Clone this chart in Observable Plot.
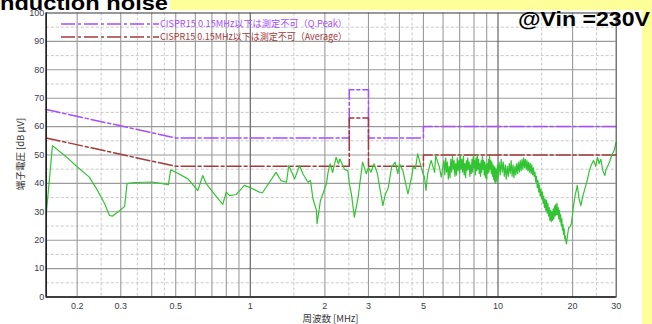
<!DOCTYPE html>
<html><head><meta charset="utf-8">
<script src="https://cdn.jsdelivr.net/npm/d3@7"></script>
<script src="https://cdn.jsdelivr.net/npm/@observablehq/plot@0.6"></script>
<style>
body{margin:0;background:#fff;}
#wrap{position:relative;width:652px;height:324px;overflow:hidden;background:#fff;}
.yl{position:absolute;background:#ffff99;}
#wrap svg{position:absolute;left:0;top:0;}
</style>
</head><body>
<div id="wrap">
  <div class="yl" style="left:170px;top:0;width:482px;height:10px"></div>
  <div class="yl" style="left:642px;top:0;width:10px;height:324px"></div>
</div>
<script>
// ---- measured conduction noise: [MHz, dBμV] ----
const measured = [
[0.150,29],[0.159,53.3],[0.180,49.5],[0.201,45.7],[0.224,42.2],[0.240,38],[0.250,35.1],[0.258,32.9],[0.270,28.7],[0.278,28.5],
[0.295,30.2],[0.311,31.9],[0.318,39.9],[0.340,40.3],[0.374,40.4],[0.400,40.5],[0.430,40.1],[0.467,39.6],[0.477,44.8],[0.500,43.9],
[0.560,41.6],[0.614,37.5],[0.643,42.8],[0.664,39.9],[0.720,36.0],[0.774,32.6],[0.800,36.9],[0.825,35.7],[0.877,36.1],[0.920,38.1],
[0.946,39.3],[1.00,38.5],[1.09,36.9],[1.12,36.7],[1.27,43.9],[1.33,41.0],[1.40,40.4],[1.43,46.3],[1.51,41.6],[1.58,46.3],
[1.63,43.4],[1.71,40.4],[1.75,41.0],[1.79,34.6],[1.85,30.5],[1.86,25.8],[1.92,34.0],[2.03,39.9],[2.06,43.9],[2.10,46.9],
[2.15,43.9],[2.22,49.2],[2.27,46.9],[2.30,48.6],[2.37,46.0],[2.40,45.0],[2.48,44.4],[2.51,39.9],[2.56,36.3],[2.63,28.1],
[2.67,31.0],[2.72,34.6],[2.80,43.4],[2.84,47.5],[2.94,43.4],[3.00,45.7],[3.07,43.9],[3.16,46.9],[3.26,43.4],[3.31,39.9],
[3.43,32.2],[3.51,36.3],[3.60,38.2],[3.72,45.7],[3.84,47.5],[3.94,43.4],[4.00,46.9],[4.13,44.5],[4.27,38.7],[4.33,36.3],
[4.48,42.2],[4.54,45.7],[4.64,45.2],[4.74,50.4],[4.86,46.9],[4.98,43.4],[5.05,42.2],[5.12,37.5],[5.20,43.4],[5.37,48.1],
[5.55,43.9],[5.60,49.8],[5.80,45.7],[5.90,42.2],[6.00,46.3],
[6.05,48],[6.1,43],[6.15,49],[6.2,44],[6.25,47.5],[6.3,41.5],[6.35,46],[6.4,42],[6.45,48.5],[6.5,44],
[6.55,49.5],[6.6,45],[6.65,48],[6.7,42.5],[6.75,47],[6.8,43],[6.85,49],[6.9,44.5],[6.95,48],[7.0,43.5],
[7.05,50],[7.1,45],[7.15,48.5],[7.2,44],[7.25,49.5],[7.3,43],[7.35,47],[7.4,42],[7.45,48],[7.5,44.5],
[7.55,49],[7.6,45],[7.65,47.5],[7.7,42.5],[7.75,46.5],[7.8,43.5],[7.85,48.5],[7.9,44],[7.95,50],[8.0,45.5],
[8.05,48],[8.1,43],[8.15,49],[8.2,44.5],[8.25,50],[8.3,45],[8.35,48.5],[8.4,43.5],[8.45,47],[8.5,42.5],
[8.55,48],[8.6,44],[8.65,49.5],[8.7,45],[8.75,48],[8.8,43],[8.85,47.5],[8.9,42],[8.95,46.5],[9.0,41.5],
[9.05,47],[9.1,43.5],[9.15,48.5],[9.2,44],[9.25,49.5],[9.3,45],[9.35,48],[9.4,43.5],[9.45,47.5],[9.5,42.5],
[9.55,46.5],[9.6,41.5],[9.65,46],[9.7,40.5],[9.75,45.5],[9.8,40],[9.85,45],[9.9,41],[9.95,46.5],[10.0,42],
[10.1,47.5],[10.2,43],[10.3,48.5],[10.4,44],[10.5,47.5],[10.6,42.5],[10.7,46.5],[10.8,41.5],[10.9,46],[11.0,42.5],
[11.1,47],[11.2,43.5],[11.3,48],[11.4,42.5],[11.5,46.5],[11.6,42],[11.7,46],[11.8,43],[11.9,47],[12.0,43.5],
[12.1,47.5],[12.2,44],[12.3,48],[12.4,44.5],[12.5,48.5],[12.6,45],[12.7,49],[12.8,45.5],[12.9,48.5],[13.0,45],
[13.1,48],[13.2,44.5],[13.3,47.5],[13.4,44],[13.5,47],[13.6,43.5],[13.7,46.5],[13.8,43],[13.9,45.5],[14.0,42.5],
[14.1,44],[14.2,40.5],[14.3,42.5],[14.4,38.5],[14.5,41],[14.6,37],[14.7,39.5],[14.8,35.5],[14.9,38],[15.0,34.5],
[15.1,37],[15.2,33],[15.3,35.5],[15.4,31.5],[15.5,34.5],[15.6,30.5],[15.7,34],[15.8,29.5],[15.9,33],[16.0,28.5],
[16.1,31.5],[16.2,27],[16.3,30.5],[16.4,26.5],[16.5,30],[16.6,27],[16.7,31],[16.8,27.5],[16.9,32],[17.0,28.5],
[17.1,32.5],[17.2,29],[17.3,33],[17.4,29],[17.5,31.5],[17.6,27.5],[17.7,30.5],[17.8,26.5],[17.9,29],[18.0,25],
[18.1,27.5],[18.2,23.5],[18.3,25.5],[18.4,22],[18.5,24],[18.6,20.5],[18.7,21.5],[18.8,19.5],[18.9,18.7],[19.1,22.0],
[19.3,24.5],[19.5,24.6],[19.8,26.0],[20.1,31.0],[20.5,36.0],[20.9,39.3],[21.2,35.0],[21.6,32.2],[22.0,35.5],[22.4,38.0],
[22.9,41.0],[23.3,44.0],[23.8,46.5],[24.3,48.1],[24.8,46.0],[25.2,49.2],[25.6,47.0],[26.0,48.5],[26.5,44.5],[27.0,42.8],
[27.3,45.0],[27.6,45.7],[28.2,47.5],[28.8,50.0],[29.4,51.5],[30.0,54.5]
];

// ---- CISPR15 limit lines ----
const limitFreq    = [0.15,0.5,2.51,2.51,3.0,3.0,5.0,5.0,30];
const qpeakLevel   = [66,56,56,73,73,56,56,60,60];
const averageLevel = [56,46,46,63,63,46,46,50,50];

// ---- ticks & grid ----
const xTicks  = [0.2,0.3,0.5,0.7,1,2,3,5,7,10,20,30];
const yTicks  = [0,10,20,30,40,50,60,70,80,90,100];
const xGridMajor  = [0.2,0.3,0.4,0.5,0.6,0.7,0.8,0.9,2,3,4,5,6,7,8,9,20];
const xGridDecade = [1,10];
const xGridMinor  = [0.25,0.35,0.45,1.5,2.5,3.5,4.5,15,25];
const yGridMajor  = [10,20,30,40,50,60,70,80,90];
const yGridMinor  = [5,15,25,35,45,55,65,75,85,95];

const seriesNames = ["CISPR15 0.15MHz以下は測定不可（Q.Peak）","CISPR15 0.15MHz以下は測定不可（Average）"];
const titleLeft = "nduction noise";
const titleRight = "@Vin =230V";
const xLabel = "周波数 [MHz]";
const yLabel = "端子電圧 [dB μV]";

const purple = "#a64dff", brown = "#a33a3a", green = "#33c433", tickColor = "#3c3c4c";

const meas = measured.map(([f, v]) => ({f, v}));
const lim = limitFreq.map((f, i) => ({f, qp: qpeakLevel[i], av: averageLevel[i]}));

const chart = Plot.plot({
  width: 652, height: 324,
  marginLeft: 45.7, marginRight: 36.3, marginTop: 12.5, marginBottom: 27.5,
  x: {type: "log", domain: [0.15, 30]},
  y: {domain: [0, 100]},
  style: {background: "none", fontFamily: "'Liberation Sans', Arial, sans-serif", fontSize: "9px", color: tickColor},
  marks: [
    Plot.ruleY(yGridMinor, {stroke: "#c8c8c8", strokeDasharray: "3,2", strokeWidth: 1}),
    Plot.ruleX(xGridMinor, {stroke: "#c8c8c8", strokeDasharray: "3,2", strokeWidth: 1}),
    Plot.ruleY(yGridMajor, {stroke: "#9a9a9a", strokeWidth: 1.1}),
    Plot.ruleX(xGridMajor, {stroke: "#9a9a9a", strokeWidth: 1.1}),
    Plot.ruleX(xGridDecade, {stroke: "#666", strokeWidth: 1.2}),
    Plot.line(lim, {x: "f", y: "qp", stroke: purple, strokeWidth: 1.5, strokeDasharray: "14,3,3,3"}),
    Plot.line(lim, {x: "f", y: "av", stroke: brown, strokeWidth: 1.5, strokeDasharray: "14,3,3,3"}),
    Plot.line(meas, {x: "f", y: "v", stroke: green, strokeWidth: 1.2}),
    Plot.frame({stroke: "#555", strokeWidth: 1.2}),
    Plot.ruleX([0.15], {stroke: "#222", strokeWidth: 1.6}),
    Plot.ruleY([0], {stroke: "#222", strokeWidth: 1.6}),
    Plot.axisX({ticks: xTicks, tickFormat: d => String(d), tickSize: 0, tickPadding: 6, label: null, fill: tickColor, fontSize: 9}),
    Plot.axisY({ticks: yTicks, tickSize: 0, tickPadding: 2, label: null, fill: tickColor, fontSize: 9})
  ]
});
const wrap = document.getElementById("wrap");
wrap.appendChild(chart);

// overlay: titles, legend, axis labels
const ns = "http://www.w3.org/2000/svg";
const ov = document.createElementNS(ns, "svg");
ov.setAttribute("width", 652); ov.setAttribute("height", 324);
ov.style.overflow = "visible";
function add(tag, attrs, text){
  const e = document.createElementNS(ns, tag);
  for (const k in attrs) e.setAttribute(k, attrs[k]);
  if (text != null) e.textContent = text;
  ov.appendChild(e); return e;
}
add("text", {x: 0, y: 9.5, "font-family": "'Liberation Sans', Arial, sans-serif", "font-weight": "bold", "font-size": 21, fill: "#000", textLength: 168, lengthAdjust: "spacingAndGlyphs"}, titleLeft);
add("text", {x: 518, y: 25.5, "font-family": "'Liberation Sans', Arial, sans-serif", "font-weight": "bold", "font-size": 21, fill: "#000", textLength: 132, lengthAdjust: "spacingAndGlyphs"}, titleRight);
const cjk = "'Noto Sans CJK JP', 'Noto Sans', sans-serif";
[[24, purple, seriesNames[0]], [37, brown, seriesNames[1]]].forEach(([y, c, t]) => {
  add("line", {x1: 61, x2: 159, y1: y, y2: y, stroke: c, "stroke-width": 1.5, "stroke-dasharray": "14,3,3,3"});
  add("text", {x: 160, y: y + 3.3, "font-family": cjk, "font-size": 9.5, fill: c, textLength: 187, lengthAdjust: "spacingAndGlyphs"}, t);
});
add("text", {x: 330.5, y: 322, "text-anchor": "middle", "font-family": cjk, "font-size": 9.5, fill: "#333"}, xLabel);
add("text", {x: 0, y: 0, "text-anchor": "middle", transform: "translate(24,154) rotate(-90)", "font-family": cjk, "font-size": 9.5, fill: "#333"}, yLabel);
wrap.appendChild(ov);
</script>
</body></html>
